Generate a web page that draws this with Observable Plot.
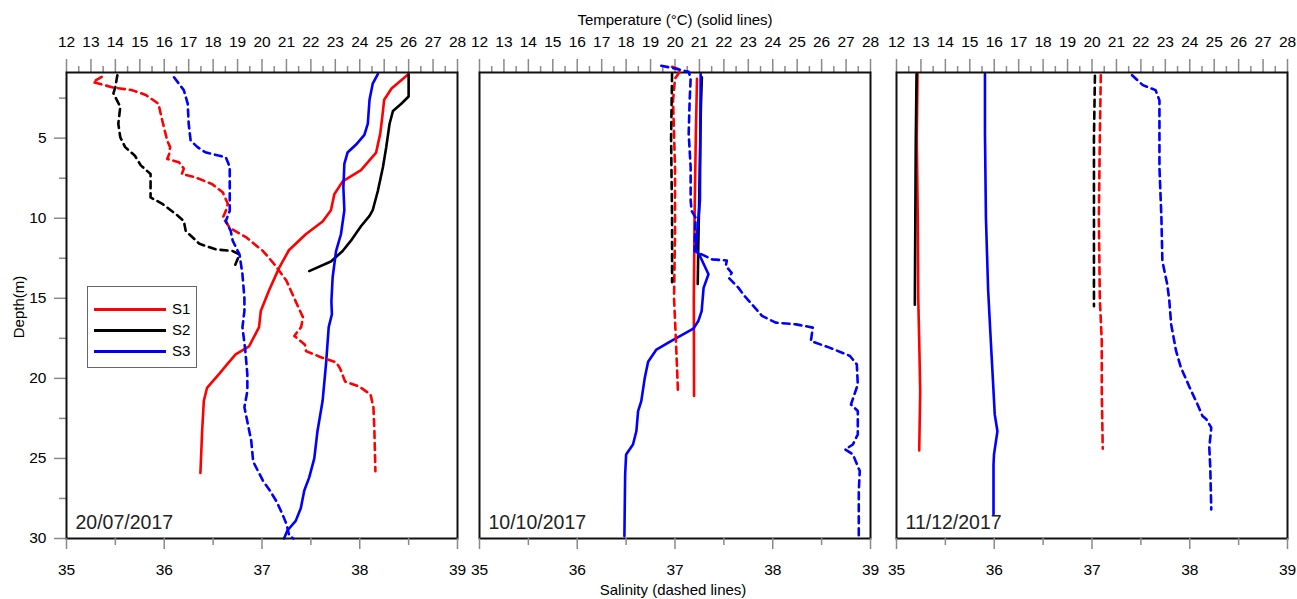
<!DOCTYPE html>
<html><head><meta charset="utf-8">
<script src="https://cdn.jsdelivr.net/npm/d3@7"></script>
<script src="https://cdn.jsdelivr.net/npm/@observablehq/plot@0.6"></script>
<style>
body{margin:0;background:#fff;}
#chart{position:relative;width:1297px;height:599px;overflow:hidden;background:#fff;
  font-family:"Liberation Sans",Arial,sans-serif;color:#000;}
.lbl{position:absolute;white-space:nowrap;}
#legend{position:absolute;left:87px;top:286px;width:110px;height:82px;border:1px solid #666;box-sizing:border-box;background:#fff;}
#legend .row{position:absolute;left:6px;height:20px;}
#legend .sw{position:absolute;left:0;top:9px;width:72px;height:3px;}
#legend .tx{position:absolute;left:78px;top:1px;font-size:15px;line-height:18px;}
</style></head><body><div id="chart"></div>
<script>
// ---- labels ----
const dates = ["20/07/2017", "10/10/2017", "11/12/2017"];
const stations = ["S1", "S2", "S3"];
const stationColors = ["#ff0000", "#000000", "#0000ff"];
const tempTicks = [12,13,14,15,16,17,18,19,20,21,22,23,24,25,26,27,28];
const tempMinorTicks = [12.5,13.5,14.5,15.5,16.5,17.5,18.5,19.5,20.5,21.5,22.5,23.5,24.5,25.5,26.5,27.5];
const salTicks = [35,36,37,38,39];
const salMinorTicks = [35.5,36.5,37.5,38.5];
const depthTicks = [5,10,15,20,25,30];
const depthMinorTicks = [2.5,7.5,12.5,17.5,22.5,27.5];

// ---- data: [depth (m), value] ----
// 20/07/2017 temperature
const julS1T = [[1.0,26.0],[1.9,25.3],[2.6,25.0],[3.7,24.92],[4.7,24.84],[5.9,24.67],[7.0,24.05],[7.7,23.3],[8.5,22.96],[9.5,22.82],[10.2,22.48],[11.0,21.79],[12.0,21.1],[13.1,20.7],[14.5,20.29],[15.8,19.95],[16.8,19.88],[18.0,19.47],[18.5,18.92],[19.0,18.64],[19.75,18.23],[20.6,17.75],[21.4,17.62],[23.3,17.55],[25.9,17.48]];
const julS2T = [[1.05,26.0],[2.4,26.0],[2.85,25.7],[3.3,25.36],[4.1,25.22],[5.6,25.08],[6.8,24.95],[8.3,24.74],[9.5,24.53],[9.85,24.4],[10.5,24.05],[11.4,23.64],[12.05,23.3],[12.7,22.82],[13.3,21.93]];
const julS3T = [[1.0,24.74],[1.6,24.53],[2.6,24.4],[4.1,24.33],[4.8,24.19],[5.4,23.85],[5.9,23.5],[6.6,23.37],[8.1,23.33],[9.5,23.37],[11.0,23.23],[12.05,23.03],[13.7,22.89],[15.2,22.84],[16.0,22.86],[16.8,22.73],[19.1,22.62],[21.4,22.48],[23.3,22.27],[25.0,22.14],[26.2,21.93],[27.0,21.73],[28.1,21.59],[28.9,21.38],[29.5,21.04],[30.0,20.9]];
// 20/07/2017 salinity
const julS1S = [[1.17,35.36],[1.5,35.27],[1.84,35.48],[2.0,35.67],[2.3,35.81],[2.85,35.94],[3.9,35.98],[5.15,36.03],[5.56,36.06],[6.0,36.05],[6.3,36.03],[6.5,36.15],[6.9,36.2],[7.24,36.18],[7.45,36.32],[7.87,36.49],[8.4,36.6],[9.1,36.65],[9.54,36.63],[9.96,36.6],[10.6,36.67],[11.2,36.84],[12.05,37.01],[12.9,37.13],[13.9,37.25],[15.0,37.33],[16.2,37.42],[16.8,37.4],[17.35,37.33],[17.9,37.44],[18.3,37.45],[18.7,37.61],[19.0,37.76],[19.4,37.8],[20.2,37.85],[20.5,37.99],[21.0,38.11],[21.8,38.14],[23.3,38.15],[25.8,38.16]];
const julS2S = [[1.07,35.52],[1.8,35.5],[2.2,35.48],[3.05,35.55],[4.1,35.53],[4.94,35.55],[5.56,35.6],[6.1,35.7],[6.7,35.76],[7.24,35.86],[7.87,35.86],[8.7,35.86],[9.1,35.98],[9.75,36.12],[10.17,36.2],[10.8,36.22],[11.6,36.36],[11.95,36.53],[12.05,36.7],[12.26,36.77],[13.0,36.72]];
const julS3S = [[1.2,36.1],[2.0,36.2],[2.85,36.24],[4.1,36.25],[5.15,36.27],[5.56,36.34],[5.88,36.42],[6.2,36.63],[6.8,36.67],[8.1,36.67],[9.54,36.67],[10.17,36.63],[10.8,36.68],[11.4,36.7],[12.26,36.77],[13.5,36.8],[15.0,36.82],[15.8,36.82],[16.8,36.8],[18.3,36.83],[19.75,36.85],[20.8,36.85],[21.8,36.82],[22.7,36.85],[23.9,36.89],[25.2,36.91],[25.8,36.96],[26.4,37.01],[27.0,37.08],[27.7,37.15],[28.5,37.21],[29.1,37.25],[29.85,37.28],[30.0,37.32]];
// 10/10/2017 temperature
const octS1T = [[1.3,20.9],[5,20.85],[10,20.8],[15,20.77],[21.1,20.78]];
const octS2T = [[1.2,21.1],[3,21.06],[8,21.0],[12,20.95],[14.1,20.93]];
const octS3T = [[1.0,21.05],[8.9,21.02],[11.95,20.85],[12.36,21.02],[13.5,21.37],[14.35,21.17],[15.8,21.09],[16.4,20.96],[16.9,20.75],[17.7,19.8],[18.2,19.24],[18.96,18.9],[20.0,18.76],[21.42,18.62],[22.04,18.49],[23.29,18.42],[24.13,18.28],[24.75,18.0],[26.0,17.96],[29.85,17.93]];
// 10/10/2017 salinity
const octS1S = [[0.54,36.97],[0.75,37.06],[1.28,37.0],[2.64,36.98],[6.8,37.0],[11,37.0],[15,36.99],[17.7,37.01],[20.8,37.03]];
const octS2S = [[1.0,36.97],[5,36.96],[10,36.97],[14,36.97]];
const octS3S = [[0.48,36.86],[0.65,37.0],[0.86,37.14],[1.28,37.16],[2.64,37.15],[4.73,37.14],[6.82,37.16],[8.9,37.16],[9.54,37.17],[9.96,37.21],[12.05,37.2],[12.57,37.38],[12.64,37.53],[12.99,37.52],[13.41,37.58],[13.72,37.55],[14.35,37.65],[14.85,37.71],[15.19,37.76],[16.1,37.89],[16.52,38.03],[16.63,38.24],[16.83,38.41],[17.67,38.39],[18.08,38.58],[18.6,38.79],[19.13,38.86],[20.38,38.87],[21.63,38.8],[22.04,38.87],[23.5,38.87],[24.13,38.82],[24.44,38.74],[24.75,38.82],[25.79,38.89],[27.04,38.88],[29.85,38.88]];
// 11/12/2017 temperature
const decS1T = [[1.0,12.86],[5,12.83],[10,12.87],[15,12.89],[17.7,12.93],[20.8,12.97],[24.5,12.93]];
const decS2T = [[1.0,12.82],[5,12.79],[10,12.77],[15.4,12.75]];
const decS3T = [[1.0,15.62],[4.7,15.62],[10,15.66],[14.5,15.75],[17.7,15.86],[20.8,15.97],[22.25,16.02],[23.3,16.13],[24.75,15.99],[25.4,15.97],[28.5,15.97]];
// 11/12/2017 salinity
const decS1S = [[1.07,37.09],[5,37.08],[10,37.07],[15,37.08],[17.7,37.1],[20.8,37.1],[24.4,37.11]];
const decS2S = [[1.1,37.03],[5,37.02],[10,37.02],[15.5,37.02]];
const decS3S = [[1.07,37.41],[1.69,37.52],[2.0,37.65],[2.64,37.69],[6.82,37.69],[9.96,37.71],[12.68,37.72],[14.14,37.77],[15.08,37.79],[16.63,37.81],[18.29,37.86],[19.33,37.91],[20.58,38.0],[21.63,38.08],[22.35,38.13],[22.56,38.17],[23.08,38.22],[24.33,38.2],[25.58,38.21],[28.19,38.22]];

const tempSeries = [[julS1T, julS2T, julS3T], [octS1T, octS2T, octS3T], [decS1T, decS2T, decS3T]];
const salSeries = [[julS1S, julS2S, julS3S], [octS1S, octS2S, octS3S], [decS1S, decS2S, decS3S]];

// ---- layout ----
const FONT = '"Liberation Sans",Arial,sans-serif';
const chart = document.getElementById("chart");
const frameLeft = [66, 479, 896];
const frameW = 391, H = 599, MT = 72, MB = 61;
const tickColor = "#8a8a8a";
const intFmt = d => String(d);

function place(el, left) {
  el.style.position = "absolute";
  el.style.left = left + "px";
  el.style.top = "0px";
  chart.appendChild(el);
}

for (let i = 0; i < 3; i++) {
  const mL = i === 0 ? 66 : 24, mR = 14;
  const common = {
    width: mL + frameW + mR, height: H,
    marginLeft: mL, marginRight: mR, marginTop: MT, marginBottom: MB,
    style: {fontFamily: FONT, fontSize: "15.5px", background: "transparent", overflow: "visible", maxWidth: "none", color: "#000"}
  };
  // temperature layer
  const tMarks = [
    Plot.axisX({ticks: tempMinorTicks, anchor: "top", tickSize: 7, tickFormat: () => "", stroke: tickColor, strokeWidth: 1.5, label: null}),
    Plot.axisX({ticks: tempTicks, anchor: "top", tickSize: 14, tickPadding: 12, tickFormat: intFmt, stroke: tickColor, strokeWidth: 1.5, label: null})
  ];
  if (i === 0) {
    tMarks.push(Plot.axisY({ticks: depthMinorTicks, anchor: "left", tickSize: 7, tickFormat: () => "", stroke: tickColor, strokeWidth: 1.5, label: null}));
    tMarks.push(Plot.axisY({ticks: depthTicks, anchor: "left", tickSize: 12, tickPadding: 8, tickFormat: intFmt, stroke: tickColor, strokeWidth: 1.5, label: null}));
  }
  tempSeries[i].forEach((s, k) => tMarks.push(
    Plot.line(s, {x: d => d[1], y: d => d[0], stroke: stationColors[k], strokeWidth: 2.6, curve: "linear"})
  ));
  tMarks.push(Plot.text([dates[i]], {text: d => d, frameAnchor: "bottom-left", textAnchor: "start", lineAnchor: "bottom", dx: 9, dy: -10, fontSize: 19.5, fill: "#222"}));
  tMarks.push(Plot.frame({stroke: "#111", strokeWidth: 2}));
  const tPlot = Plot.plot({
    ...common,
    x: {domain: [12, 28]},
    y: {domain: [0.9, 30], reverse: true, axis: i === 0 ? undefined : null},
    marks: tMarks
  });
  place(tPlot, frameLeft[i] - mL);

  // salinity layer
  const sMarks = [
    Plot.axisX({ticks: salMinorTicks, anchor: "bottom", tickSize: 7, tickFormat: () => "", stroke: tickColor, strokeWidth: 1.5, label: null}),
    Plot.axisX({ticks: salTicks, anchor: "bottom", tickSize: 11, tickPadding: 14, tickFormat: intFmt, stroke: tickColor, strokeWidth: 1.5, label: null})
  ];
  salSeries[i].forEach((s, k) => sMarks.push(
    Plot.line(s, {x: d => d[1], y: d => d[0], stroke: stationColors[k], strokeWidth: 2.6, strokeDasharray: "7,5", curve: "linear"})
  ));
  const sPlot = Plot.plot({
    ...common,
    x: {domain: [35, 39]},
    y: {domain: [0.9, 30], reverse: true, axis: null},
    marks: sMarks
  });
  sPlot.style.pointerEvents = "none";
  place(sPlot, frameLeft[i] - mL);
}

// titles
function label(text, css) {
  const d = document.createElement("div");
  d.className = "lbl";
  d.textContent = text;
  Object.assign(d.style, css);
  chart.appendChild(d);
  return d;
}
label("Temperature (\u00B0C) (solid lines)", {left: "575px", width: "200px", textAlign: "center", top: "10px", fontSize: "15px", lineHeight: "20px"});
label("Salinity (dashed lines)", {left: "573px", width: "200px", textAlign: "center", top: "580px", fontSize: "15px", lineHeight: "19px"});
label("Depth(m)", {left: "-31px", width: "100px", textAlign: "center", top: "297px", fontSize: "15px", lineHeight: "20px", transform: "rotate(-90deg)"});

// legend
const lg = document.createElement("div");
lg.id = "legend";
stations.forEach((s, k) => {
  const row = document.createElement("div");
  row.className = "row";
  row.style.top = (12 + k * 21) + "px";
  const sw = document.createElement("div");
  sw.className = "sw";
  sw.style.background = stationColors[k];
  const tx = document.createElement("div");
  tx.className = "tx";
  tx.textContent = s;
  row.appendChild(sw); row.appendChild(tx);
  lg.appendChild(row);
});
chart.appendChild(lg);
</script></body></html>
